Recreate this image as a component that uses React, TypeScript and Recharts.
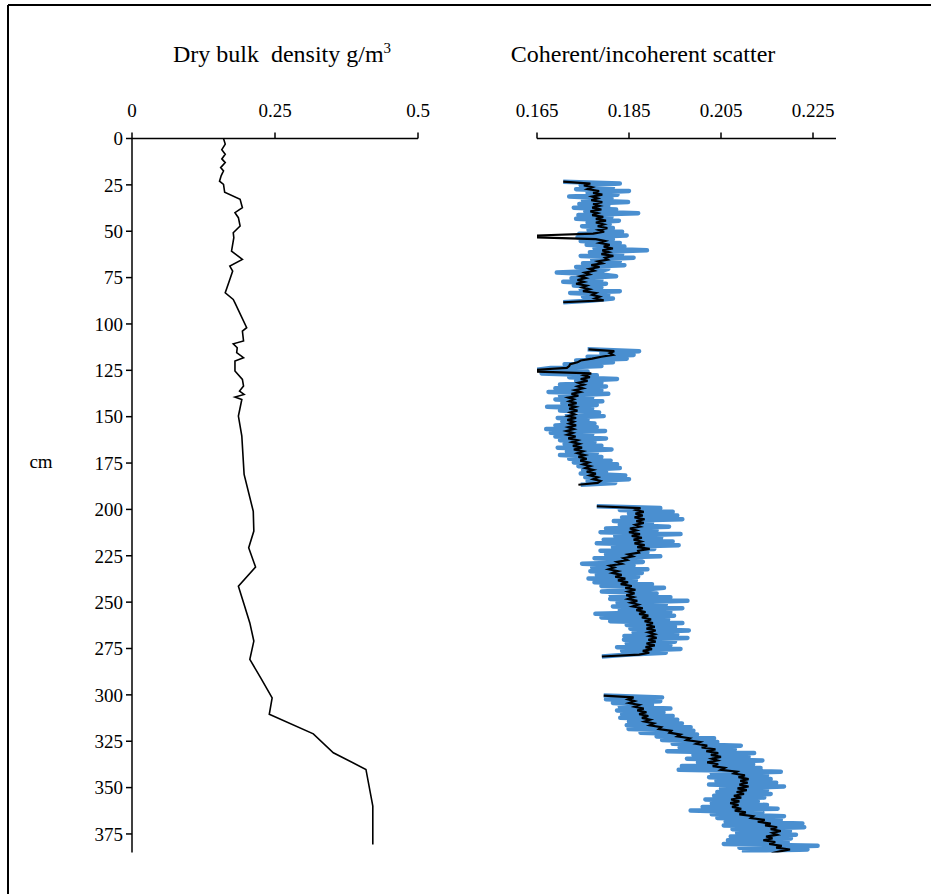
import React from 'react';
import { ScatterChart, Scatter, XAxis, YAxis } from 'recharts';

const FONT = '"Liberation Serif", "Times New Roman", Times, serif';

// ---------- Left panel: dry bulk density ----------
const densityDepth = [
  0, 3, 6, 8.5, 11, 13, 15.7, 17.5, 20, 23, 24.7, 29, 32.8, 37.3, 40, 42.7, 47.2, 50.8, 53.5, 60.7,
  65.2, 68.8, 71.5, 76, 83.2, 86.8, 88.6, 102, 103.8, 109.2, 110.7, 112.8, 115.5, 118.2, 120, 125.4,
  129.9, 133.5, 136.2, 138, 139.4, 140.7, 149.7, 160.5, 181.1, 201, 211.7, 220.7, 231.1, 241.4, 251.3,
  261.2, 271, 280.9, 290.8, 301.6, 310.5, 321, 331.2, 340.2, 360, 380.7,
];
const densityValue = [
  0.160, 0.163, 0.157, 0.163, 0.157, 0.163, 0.155, 0.160, 0.156, 0.153, 0.160, 0.162, 0.189, 0.193, 0.180, 0.186, 0.189, 0.177, 0.178, 0.174,
  0.193, 0.171, 0.176, 0.171, 0.163, 0.177, 0.180, 0.2005, 0.193, 0.195, 0.177, 0.184, 0.183, 0.195, 0.180, 0.180,
  0.193, 0.195, 0.188, 0.196, 0.180, 0.192, 0.186, 0.192, 0.196, 0.212, 0.213, 0.204, 0.216, 0.186, 0.196,
  0.206, 0.213, 0.206, 0.225, 0.245, 0.240, 0.317, 0.352, 0.409, 0.421, 0.421,
];

// ---------- Right panel: coherent/incoherent scatter ----------
const depthStep = 1; // cm between scanner readings
const seg1Start = 23.3;
const seg1Blue = [
  0.1707, 0.1830, 0.1745, 0.1815, 0.1735, 0.1850, 0.1760, 0.1825, 0.1720, 0.1812,
  0.1750, 0.1848, 0.1742, 0.1805, 0.1730, 0.1822, 0.1755, 0.1870, 0.1740, 0.1812,
  0.1735, 0.1828, 0.1760, 0.1808, 0.1748, 0.1815, 0.1762, 0.1835, 0.1742, 0.1845,
  0.1738, 0.1815, 0.1745, 0.1830, 0.1758, 0.1840, 0.1775, 0.1889, 0.1765, 0.1835,
  0.1745, 0.1860, 0.1770, 0.1830, 0.1750, 0.1840, 0.1735, 0.1805, 0.1790, 0.1693,
  0.1790, 0.1822, 0.1725, 0.1790, 0.1707, 0.1800, 0.1730, 0.1790, 0.1745, 0.1830,
  0.1722, 0.1805, 0.1750, 0.1815, 0.1770, 0.1707,
];
const seg1Black = [
  0.1707, 0.1766, 0.1752, 0.1770, 0.1760, 0.1785, 0.1772, 0.1792, 0.1770, 0.1782,
  0.1768, 0.1792, 0.1772, 0.1786, 0.1770, 0.1790, 0.1766, 0.1782, 0.1770, 0.1794,
  0.1778, 0.1800, 0.1778, 0.1795, 0.1782, 0.1803, 0.1784, 0.1796, 0.1772, 0.1650,
  0.1650, 0.1778, 0.1798, 0.1786, 0.1808, 0.1795, 0.1815, 0.1792, 0.1806, 0.1790,
  0.1816, 0.1798, 0.1804, 0.1782, 0.1792, 0.1768, 0.1786, 0.1764, 0.1774, 0.1754,
  0.1764, 0.1744, 0.1756, 0.1738, 0.1752, 0.1735, 0.1758, 0.1748, 0.1764, 0.1750,
  0.1778, 0.1770, 0.1786, 0.1776, 0.1795, 0.1707,
];

const seg2Start = 113.7;
const seg2Blue = [
  0.1760, 0.1872, 0.1790, 0.1860, 0.1760, 0.1845, 0.1735, 0.1815, 0.1710, 0.1790,
  0.1680, 0.1650, 0.1760, 0.1660, 0.1780, 0.1720, 0.1824, 0.1735, 0.1790, 0.1700,
  0.1800, 0.1690, 0.1790, 0.1675, 0.1805, 0.1700, 0.1770, 0.1690, 0.1792, 0.1705,
  0.1780, 0.1672, 0.1770, 0.1700, 0.1785, 0.1715, 0.1795, 0.1695, 0.1760, 0.1705,
  0.1775, 0.1690, 0.1780, 0.1670, 0.1798, 0.1680, 0.1770, 0.1690, 0.1800, 0.1700,
  0.1775, 0.1710, 0.1790, 0.1695, 0.1812, 0.1715, 0.1780, 0.1700, 0.1790, 0.1720,
  0.1810, 0.1730, 0.1824, 0.1740, 0.1830, 0.1750, 0.1800, 0.1745, 0.1842, 0.1755,
  0.1850, 0.1760, 0.1820, 0.1745,
];
const seg2Black = [
  0.1762, 0.1818, 0.1808, 0.1815, 0.1790, 0.1770, 0.1745, 0.1738, 0.1722, 0.1720,
  0.1715, 0.1650, 0.1650, 0.1768, 0.1752, 0.1765, 0.1745, 0.1760, 0.1740, 0.1752,
  0.1738, 0.1750, 0.1732, 0.1744, 0.1725, 0.1740, 0.1718, 0.1730, 0.1720, 0.1736,
  0.1718, 0.1734, 0.1720, 0.1738, 0.1722, 0.1732, 0.1718, 0.1735, 0.1716, 0.1730,
  0.1720, 0.1735, 0.1718, 0.1730, 0.1714, 0.1728, 0.1716, 0.1734, 0.1718, 0.1738,
  0.1726, 0.1742, 0.1728, 0.1748, 0.1730, 0.1750, 0.1738, 0.1754, 0.1740, 0.1758,
  0.1744, 0.1762, 0.1750, 0.1766, 0.1755, 0.1772, 0.1758, 0.1778, 0.1765, 0.1782,
  0.1772, 0.1788, 0.1782, 0.1740,
];

const seg3Start = 198.3;
const seg3Blue = [
  0.1780, 0.1918, 0.1830, 0.1945, 0.1850, 0.1955, 0.1835, 0.1966, 0.1817, 0.1900,
  0.1830, 0.1937, 0.1800, 0.1910, 0.1788, 0.1962, 0.1820, 0.1920, 0.1795, 0.1945,
  0.1780, 0.1958, 0.1815, 0.1905, 0.1788, 0.1890, 0.1800, 0.1918, 0.1775, 0.1870,
  0.1880, 0.1748, 0.1860, 0.1770, 0.1890, 0.1766, 0.1878, 0.1780, 0.1870, 0.1762,
  0.1865, 0.1775, 0.1900, 0.1790, 0.1926, 0.1880, 0.1791, 0.1910, 0.1810, 0.1940,
  0.1809, 0.1977, 0.1825, 0.1930, 0.1815, 0.1966, 0.1830, 0.1940, 0.1777, 0.1948,
  0.1790, 0.1935, 0.1809, 0.1966, 0.1845, 0.1950, 0.1853, 0.1980, 0.1860, 0.1955,
  0.1840, 0.1977, 0.1839, 0.1950, 0.1845, 0.1940, 0.1824, 0.1962, 0.1835, 0.1930,
  0.1850, 0.1791,
];
const seg3Black = [
  0.1780, 0.1875, 0.1865, 0.1882, 0.1864, 0.1880, 0.1862, 0.1884, 0.1866, 0.1882,
  0.1864, 0.1874, 0.1852, 0.1866, 0.1850, 0.1874, 0.1856, 0.1878, 0.1860, 0.1876,
  0.1862, 0.1884, 0.1868, 0.1895, 0.1870, 0.1872, 0.1848, 0.1858, 0.1838, 0.1846,
  0.1824, 0.1834, 0.1808, 0.1818, 0.1806, 0.1826, 0.1814, 0.1834, 0.1820, 0.1842,
  0.1826, 0.1848, 0.1832, 0.1856, 0.1842, 0.1864, 0.1848, 0.1862, 0.1844, 0.1860,
  0.1848, 0.1868, 0.1854, 0.1870, 0.1858, 0.1880, 0.1866, 0.1886, 0.1872, 0.1892,
  0.1878, 0.1898, 0.1884, 0.1902, 0.1888, 0.1906, 0.1888, 0.1908, 0.1892, 0.1906,
  0.1894, 0.1910, 0.1892, 0.1908, 0.1888, 0.1906, 0.1886, 0.1900, 0.1880, 0.1894,
  0.1872, 0.1791,
];

const seg4Start = 300.4;
const seg4Blue = [
  0.1795, 0.1922, 0.1800, 0.1918, 0.1815, 0.1900, 0.1830, 0.1940, 0.1824, 0.1925,
  0.1835, 0.1945, 0.1831, 0.1955, 0.1850, 0.1965, 0.1845, 0.1984, 0.1849, 0.1990,
  0.1875, 0.1998, 0.1910, 0.2035, 0.1922, 0.2042, 0.1945, 0.2093, 0.1960, 0.2080,
  0.1933, 0.2122, 0.1990, 0.2110, 0.1976, 0.2140, 0.2000, 0.2120, 0.1965, 0.2136,
  0.1958, 0.2180, 0.2030, 0.2150, 0.2024, 0.2158, 0.2040, 0.2170, 0.2024, 0.2187,
  0.2050, 0.2150, 0.2042, 0.2158, 0.2035, 0.2144, 0.2016, 0.2130, 0.2030, 0.2150,
  0.2010, 0.2173, 0.1984, 0.2140, 0.2030, 0.2187, 0.2042, 0.2180, 0.2060, 0.2227,
  0.2056, 0.2231, 0.2075, 0.2200, 0.2085, 0.2213, 0.2071, 0.2202, 0.2065, 0.2195,
  0.2056, 0.2260, 0.2090, 0.2238, 0.2100, 0.2210,
];
const seg4Black = [
  0.1795, 0.1860, 0.1848, 0.1862, 0.1850, 0.1872, 0.1862, 0.1882, 0.1868, 0.1888,
  0.1872, 0.1892, 0.1878, 0.1896, 0.1884, 0.1904, 0.1895, 0.1920, 0.1915, 0.1942,
  0.1938, 0.1962, 0.1955, 0.1982, 0.1975, 0.2005, 0.1996, 0.2020, 0.2008, 0.2038,
  0.2018, 0.2044, 0.2028, 0.2050, 0.2030, 0.2042, 0.2020, 0.2044, 0.2032, 0.2058,
  0.2050, 0.2085, 0.2078, 0.2102, 0.2088, 0.2110, 0.2092, 0.2108, 0.2090, 0.2110,
  0.2086, 0.2106, 0.2084, 0.2100, 0.2078, 0.2094, 0.2072, 0.2090, 0.2070, 0.2088,
  0.2074, 0.2094, 0.2080, 0.2104, 0.2090, 0.2120, 0.2115, 0.2145, 0.2130, 0.2158,
  0.2146, 0.2172, 0.2158, 0.2180, 0.2162, 0.2172, 0.2148, 0.2162, 0.2142, 0.2168,
  0.2155, 0.2182, 0.2170, 0.2200, 0.2178, 0.2160,
];

// ---------- Axis ticks ----------
const depthTicks = [0, 25, 50, 75, 100, 125, 150, 175, 200, 225, 250, 275, 300, 325, 350, 375];
const densityTicks = [0, 0.25, 0.5];
const densityTickLabels = ['0', '0.25', '0.5'];
const scatterTicks = [0.165, 0.185, 0.205, 0.225];
const scatterTickLabels = ['0.165', '0.185', '0.205', '0.225'];

const densityPts = densityDepth.map((d, i) => ({ d, v: densityValue[i] }));
const toPts = (start: number, values: number[]) =>
  values.map((v, i) => ({ d: Math.round((start + i * depthStep) * 10) / 10, v }));

const segments = [
  { start: seg1Start, blue: seg1Blue, black: seg1Black },
  { start: seg2Start, blue: seg2Blue, black: seg2Black },
  { start: seg3Start, blue: seg3Blue, black: seg3Black },
  { start: seg4Start, blue: seg4Blue, black: seg4Black },
];

const BLUE = '#4a8fd0';
const noDot = () => <g />;

const tickStyle = { fill: '#000', fontSize: 19, fontFamily: FONT };
const axisLine = { stroke: '#000', strokeWidth: 1.5 };

export default function App() {
  return (
    <div style={{ position: 'absolute', left: 0, top: 0, width: 931, height: 894, overflow: 'hidden', background: '#fff' }}>
      <svg width={931} height={894} style={{ position: 'absolute', left: 0, top: 0 }}>
        <line x1={8} y1={5} x2={931} y2={5} stroke="#000" strokeWidth={2} />
        <line x1={8} y1={5} x2={8} y2={894} stroke="#000" strokeWidth={2} />
        <text x={282} y={62} textAnchor="middle" fontFamily={FONT} fontSize={24} fill="#000" style={{ whiteSpace: 'pre' }}>
          {'Dry bulk  density g/m'}
          <tspan dy={-9} fontSize={15}>3</tspan>
        </text>
        <text x={643} y={62} textAnchor="middle" fontFamily={FONT} fontSize={24} fill="#000">
          Coherent/incoherent scatter
        </text>
        <text x={41} y={468} textAnchor="middle" fontFamily={FONT} fontSize={19} fill="#000">
          cm
        </text>
      </svg>

      <div style={{ position: 'absolute', left: 0, top: 0 }}>
        <ScatterChart width={450} height={894} margin={{ top: 108.5, left: 72, right: 32, bottom: 41.5 }}>
          <XAxis
            type="number"
            dataKey="v"
            orientation="top"
            domain={[0, 0.5]}
            ticks={densityTicks}
            tickFormatter={(v: number) => densityTickLabels[densityTicks.indexOf(v)] ?? String(v)}
            interval={0}
            height={30}
            tickSize={6}
            tickMargin={16}
            tick={tickStyle}
            axisLine={axisLine}
            tickLine={axisLine}
            allowDataOverflow
          />
          <YAxis
            type="number"
            dataKey="d"
            domain={[0, 385]}
            reversed
            ticks={depthTicks}
            interval={0}
            width={60}
            tickSize={6}
            tickMargin={3}
            tick={tickStyle}
            axisLine={axisLine}
            tickLine={axisLine}
            allowDataOverflow
          />
          <Scatter
            data={densityPts}
            line={{ stroke: '#000', strokeWidth: 1.6 }}
            shape={noDot}
            isAnimationActive={false}
          />
        </ScatterChart>
      </div>

      <div style={{ position: 'absolute', left: 450, top: 0 }}>
        <ScatterChart width={481} height={894} margin={{ top: 108.5, left: 87, right: 95, bottom: 41.5 }}>
          <XAxis
            type="number"
            dataKey="v"
            orientation="top"
            domain={[0.165, 0.23]}
            ticks={scatterTicks}
            tickFormatter={(v: number) => scatterTickLabels[scatterTicks.indexOf(v)] ?? String(v)}
            interval={0}
            height={30}
            tickSize={6}
            tickMargin={16}
            tick={tickStyle}
            axisLine={axisLine}
            tickLine={axisLine}
            allowDataOverflow
          />
          <YAxis type="number" dataKey="d" domain={[0, 385]} reversed hide width={0} allowDataOverflow />
          {segments.map((s, i) => (
            <Scatter
              key={'b' + i}
              data={toPts(s.start, s.blue)}
              line={{ stroke: BLUE, strokeWidth: 4.5, strokeLinejoin: 'round' }}
              shape={noDot}
              isAnimationActive={false}
            />
          ))}
          {segments.map((s, i) => (
            <Scatter
              key={'k' + i}
              data={toPts(s.start, s.black)}
              line={{ stroke: '#000', strokeWidth: 2.2 }}
              shape={noDot}
              isAnimationActive={false}
            />
          ))}
        </ScatterChart>
      </div>
    </div>
  );
}
